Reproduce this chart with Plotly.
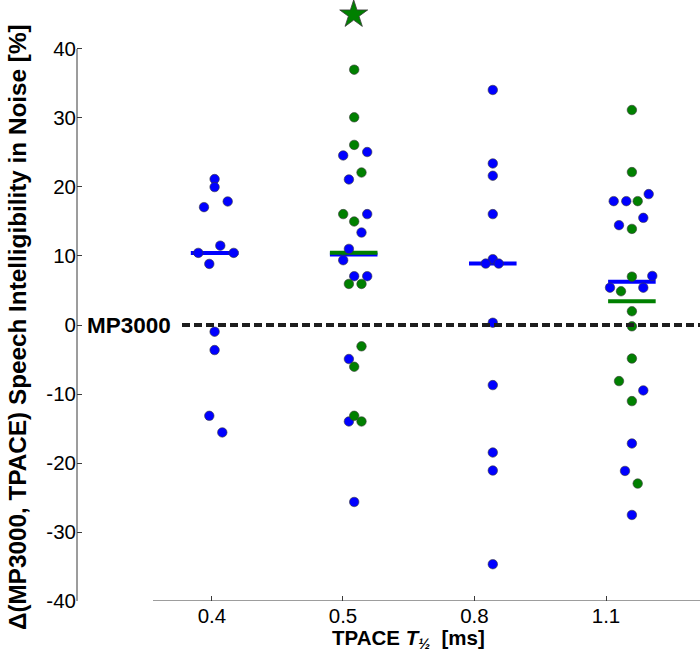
import numpy as np
import plotly.graph_objects as go

# ---------------- data ----------------
CATEGORIES = ["0.4", "0.5", "0.8", "1.1"]

# values (percentage points) and beeswarm offsets (px) for each group
BLUE_04 = [21.15, 19.99, 17.08, 17.90, 11.50, 10.45, 10.45, 8.85, -0.97, -3.63, -13.16, -15.57]
BLUE_04_OFF = [0, 0, -10.6, 13.1, 5.7, -16.3, 19.1, -5.3, 0, 0, -5.3, 7.7]

BLUE_05 = [24.57, 25.07, 21.09, 16.07, 13.40, 11.03, 9.39, 7.07, 7.07, -4.93, -13.98, -25.65]
BLUE_05_OFF = [-10.5, 13.5, -4.8, 13.5, 7.8, -4.8, -10.5, 0.5, 13.5, -4.8, -4.8, 0.5]
GREEN_05 = [37.0, 30.1, 26.1, 22.1, 16.07, 15.0, 5.95, 5.95, -3.09, -6.05, -13.16, -13.98]
GREEN_05_OFF = [0.5, 0.5, 0.5, 7.8, -10.5, 0.5, -4.8, 7.8, 7.8, 0.5, 0.5, 7.8]
STAR_05 = [45.0]

BLUE_08 = [34.06, 23.41, 21.63, 16.07, 9.54, 8.90, 8.90, 0.33, -8.71, -18.48, -21.09, -34.67]
BLUE_08_OFF = [0, 0, 0, 0, 0, -7.1, 5.9, 0, 0, 0, 0, 0]

BLUE_11 = [18.97, 17.95, 17.95, 15.53, 14.47, 7.11, 5.41, 5.41, -9.48, -17.17, -21.15, -27.53]
BLUE_11_OFF = [16.8, -18.2, -5.6, 11.4, -12.9, 20.4, -21.9, 11.4, 11.4, 0, -6.9, 0]
GREEN_11 = [31.16, 22.16, 17.95, 13.93, 7.01, 4.89, 1.99, -0.19, -4.86, -8.13, -11.03, -22.98]
GREEN_11_OFF = [0, 0, 5.8, 0, 0, -10.9, 0, 0, 0, -12.9, 0, 5.8]

BASELINE = 0  # MP3000 reference
Y_TICKS = [40, 30, 20, 10, 0, -10, -20, -30, -40]

# ---------------- style ----------------
BLUE = "#0000ff"
GREEN = "#008000"
EDGE = "#3a3a3a"
FONT = "Liberation Sans, Arial, Helvetica, sans-serif"
PX_PER_CAT = 139.1           # px per category step
BAR_HALF = 0.171             # half width of median bar (category units)
TICK_POS = [0.981, 1.923, 2.868, 3.814]
Y_MIN, Y_MAX_AXIS, Y_MAX_VIEW = -40, 40, 47.1

fig = go.Figure()

blue_groups = [(0, BLUE_04, BLUE_04_OFF), (1, BLUE_05, BLUE_05_OFF),
               (2, BLUE_08, BLUE_08_OFF), (3, BLUE_11, BLUE_11_OFF)]
green_groups = [(1, GREEN_05, GREEN_05_OFF), (3, GREEN_11, GREEN_11_OFF)]

# median bars
for gi, vals, _ in blue_groups:
    m = float(np.median(vals))
    c = gi + 1
    fig.add_trace(go.Scatter(x=[c - BAR_HALF, c + BAR_HALF], y=[m, m], mode="lines",
                             line=dict(color=BLUE, width=4), showlegend=False, hoverinfo="skip"))
for gi, vals, _ in green_groups:
    m = float(np.median(vals))
    c = gi + 1
    fig.add_trace(go.Scatter(x=[c - BAR_HALF, c + BAR_HALF], y=[m, m], mode="lines",
                             line=dict(color=GREEN, width=4), showlegend=False, hoverinfo="skip"))

# points
for gi, vals, off in blue_groups:
    xs = [gi + 1 + o / PX_PER_CAT for o in off]
    fig.add_trace(go.Scatter(x=xs, y=vals, mode="markers",
                             marker=dict(size=9.5, color=BLUE, line=dict(color=EDGE, width=0.6)),
                             showlegend=False))
for gi, vals, off in green_groups:
    xs = [gi + 1 + o / PX_PER_CAT for o in off]
    fig.add_trace(go.Scatter(x=xs, y=vals, mode="markers",
                             marker=dict(size=9.5, color=GREEN, line=dict(color=EDGE, width=0.6)),
                             showlegend=False))

# significance star
fig.add_trace(go.Scatter(x=[2], y=STAR_05, mode="markers", cliponaxis=False,
                         marker=dict(symbol="star", size=21, color=GREEN, line=dict(color=EDGE, width=0.8)),
                         showlegend=False))

fig.update_layout(
    width=700, height=658,
    margin=dict(l=77, r=0, t=0, b=57),
    paper_bgcolor="white", plot_bgcolor="white",
    font=dict(family=FONT, size=20, color="black"),
    xaxis=dict(range=[0.0108, 4.4896], showgrid=False, zeroline=False, showline=False,
               tickmode="array", tickvals=TICK_POS, ticktext=CATEGORIES,
               ticks="inside", ticklen=5, tickwidth=1, tickcolor=EDGE,
               tickfont=dict(size=20.5, family=FONT, color="black")),
    yaxis=dict(range=[Y_MIN, Y_MAX_VIEW], showgrid=False, zeroline=False, showline=False,
               tickmode="array", tickvals=Y_TICKS, ticktext=[str(v) for v in Y_TICKS],
               ticks="inside", ticklen=5, tickwidth=1, tickcolor=EDGE,
               tickfont=dict(size=20.5, family=FONT, color="black")),
    shapes=[
        # y axis line (only spans -40..40)
        dict(type="line", xref="paper", yref="y", x0=0, x1=0, y0=Y_MIN, y1=Y_MAX_AXIS,
             line=dict(color=EDGE, width=1)),
        # x axis line (offset from y axis)
        dict(type="line", xref="paper", yref="y", x0=(153 - 77) / 623, x1=1, y0=Y_MIN, y1=Y_MIN,
             line=dict(color=EDGE, width=1)),
        # MP3000 reference line
        dict(type="line", xref="paper", yref="y", x0=(182 - 77) / 623, x1=1, y0=BASELINE, y1=BASELINE,
             line=dict(color="#1e1e1e", width=4, dash="8px,4px")),
    ],
    annotations=[
        dict(text="<b>MP3000</b>", xref="paper", yref="y", x=(85 - 77) / 623, y=BASELINE,
             xanchor="left", yanchor="middle", showarrow=False,
             font=dict(size=22.5, family=FONT, color="black")),
        dict(text="<b>Δ(MP3000, TPACE) Speech Intelligibility in Noise [%]</b>",
             xref="paper", yref="paper", x=(17 - 77) / 623, y=(601 - 327) / 601, textangle=-90,
             xanchor="center", yanchor="middle", showarrow=False,
             font=dict(size=24.3, family=FONT, color="black")),
        dict(text="<b>TPACE <i>T</i><sub><i>½</i></sub>\u00a0\u00a0[ms]</b>",
             xref="x", yref="paper", x=float(np.mean(TICK_POS)), y=-(639 - 601) / 601,
             xanchor="center", yanchor="middle", showarrow=False,
             font=dict(size=20.5, family=FONT, color="black")),
    ],
)

fig.write_html("out.html", config={"displayModeBar": False},
               post_script="document.body.style.margin='0';document.body.style.padding='0';")
